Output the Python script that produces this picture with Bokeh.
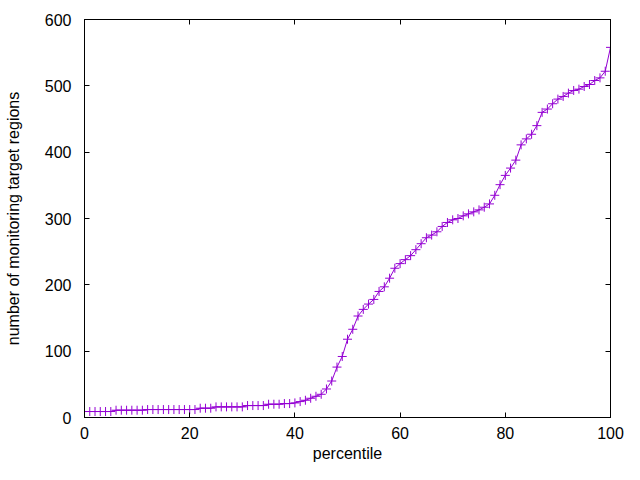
from bokeh.plotting import figure
from bokeh.models import LinearAxis, Range1d, FixedTicker, CustomJSTickFormatter
from bokeh.embed import file_html
from bokeh.resources import INLINE

percentile = list(range(101))
regions = (
    [9] * 6 + [11] * 6 + [12] * 10 + [14] * 3 + [16] * 6 + [18] * 4 + [20] * 3 +
    [21, 21, 22, 24, 26, 29, 32, 35, 43, 55,
     76, 92, 118, 133, 153, 163, 171, 178, 190, 197,
     210, 225, 232, 238, 244, 253, 262, 271, 275, 280,
     288, 294, 298, 300, 304, 307, 310, 313, 317, 322,
     335, 351, 365, 376, 388, 411, 420, 427, 440, 460,
     465, 473, 480, 484, 489, 493, 495, 499, 502, 508,
     512, 522, 558]
)
x_ticks = [0, 20, 40, 60, 80, 100]
y_ticks = [0, 100, 200, 300, 400, 500, 600]

FONT = "Liberation Sans"
COLOR = "#9400d3"

p = figure(width=624, height=464, output_backend="svg", toolbar_location=None,
           x_range=Range1d(0, 100), y_range=Range1d(0, 600),
           x_axis_label="percentile", y_axis_label="number of monitoring target regions",
           min_border_left=84, min_border_right=14, min_border_top=19, min_border_bottom=46)

p.xgrid.visible = False
p.ygrid.visible = False
p.outline_line_color = "black"
p.outline_line_width = 1
p.background_fill_color = "white"
p.border_fill_color = "white"

for ax in p.xaxis:
    ax.ticker = FixedTicker(ticks=x_ticks)
    ax.major_label_standoff = 9
    ax.axis_label_standoff = 3
for ax in p.yaxis:
    ax.ticker = FixedTicker(ticks=y_ticks)
    ax.major_label_standoff = 13
    ax.axis_label_standoff = 20

for ax in list(p.xaxis) + list(p.yaxis):
    ax.major_tick_in = 5
    ax.major_tick_out = 0
    ax.minor_tick_in = 0
    ax.minor_tick_out = 0
    ax.axis_line_color = "black"
    ax.major_tick_line_color = "black"
    ax.major_label_text_font = FONT
    ax.major_label_text_font_size = "16px"
    ax.major_label_text_color = "black"
    ax.axis_label_text_font = FONT
    ax.axis_label_text_font_size = "16px"
    ax.axis_label_text_font_style = "normal"
    ax.axis_label_text_color = "black"

blank = CustomJSTickFormatter(code="return '';")
right = LinearAxis(ticker=FixedTicker(ticks=y_ticks), formatter=blank,
                   major_tick_in=5, major_tick_out=0, minor_tick_in=0, minor_tick_out=0,
                   major_label_standoff=0)
top = LinearAxis(ticker=FixedTicker(ticks=x_ticks), formatter=blank,
                 major_tick_in=5, major_tick_out=0, minor_tick_in=0, minor_tick_out=0,
                 major_label_standoff=0)
p.add_layout(right, "right")
p.add_layout(top, "above")

p.line(percentile, regions, line_color=COLOR, line_width=1)
p.scatter(percentile, regions, marker="cross", size=9, line_color=COLOR, line_width=1)

open("out.html", "w").write(file_html(p, INLINE))
